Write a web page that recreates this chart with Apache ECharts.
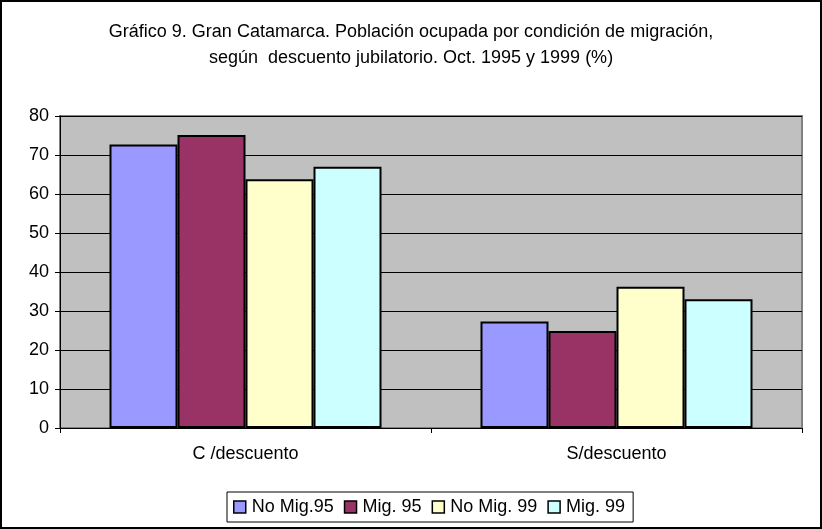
<!DOCTYPE html>
<html>
<head>
<meta charset="utf-8">
<script src="https://cdn.jsdelivr.net/npm/echarts@6/dist/echarts.min.js"></script>
<style>
html, body { margin: 0; padding: 0; background: #fff; }
#chart { width: 822px; height: 529px; }
</style>
</head>
<body>
<div id="chart"></div>
<script>
var chart = echarts.init(document.getElementById("chart"));

// datos
const categorias = ["C /descuento", "S/descuento"];
const noMig95 = [72.7, 27.3];
const mig95 = [75.1, 24.9];
const noMig99 = [63.8, 36.2];
const mig99 = [67.0, 33.0];
const ticksY = [0, 10, 20, 30, 40, 50, 60, 70, 80];

const fuente = "Liberation Sans, Arial, sans-serif";

function serie(nombre, valores, color) {
    return {
        name: nombre,
        type: "bar",
        data: valores,
        barWidth: 68,
        barGap: "0%",
        itemStyle: { color: color, borderColor: "#000", borderWidth: 2 }
    };
}

chart.setOption({
    animation: false,
    title: {
        text: "Gráfico 9. Gran Catamarca. Población ocupada por condición de migración,\nsegún  descuento jubilatorio. Oct. 1995 y 1999 (%)",
        left: "center",
        top: 14,
        textStyle: {
            fontFamily: fuente,
            fontWeight: "normal",
            fontSize: 18,
            lineHeight: 26,
            color: "#000"
        }
    },
    graphic: [{
        type: "rect",
        shape: { x: 1, y: 1, width: 820, height: 527 },
        style: { fill: "none", stroke: "#000", lineWidth: 2 },
        silent: true
    }],
    legend: {
        bottom: 7,
        left: 227,
        icon: "rect",
        itemWidth: 12,
        itemHeight: 12,
        itemGap: 10,
        padding: [6, 8, 6, 6],
        borderColor: "#000",
        borderWidth: 1,
        itemStyle: { borderColor: "#000", borderWidth: 1.5 },
        textStyle: { fontFamily: fuente, fontSize: 18, color: "#000", padding: [0, 0, 0, 1] },
        data: ["No Mig.95", "Mig. 95", "No Mig. 99", "Mig. 99"]
    },
    grid: {
        left: 60, right: 20, top: 116, bottom: 101,
        show: true,
        backgroundColor: "#C0C0C0",
        borderColor: "#808080",
        borderWidth: 2
    },
    xAxis: {
        type: "category",
        data: categorias,
        axisLine: { lineStyle: { color: "#000", width: 1 } },
        axisTick: { show: true, length: 5, lineStyle: { color: "#000" } },
        axisLabel: { fontFamily: fuente, fontSize: 18, color: "#000", margin: 17 }
    },
    yAxis: {
        type: "value",
        min: ticksY[0],
        max: ticksY[ticksY.length - 1],
        interval: 10,
        axisLine: { show: true, lineStyle: { color: "#000", width: 1 } },
        axisTick: { show: true, length: 5, lineStyle: { color: "#000" } },
        axisLabel: { fontFamily: fuente, fontSize: 18, color: "#000", margin: 11 },
        splitLine: { lineStyle: { color: "#000", width: 1 } }
    },
    series: [
        serie("No Mig.95", noMig95, "#9999FF"),
        serie("Mig. 95", mig95, "#993366"),
        serie("No Mig. 99", noMig99, "#FFFFCC"),
        serie("Mig. 99", mig99, "#CCFFFF")
    ]
});
</script>
</body>
</html>
